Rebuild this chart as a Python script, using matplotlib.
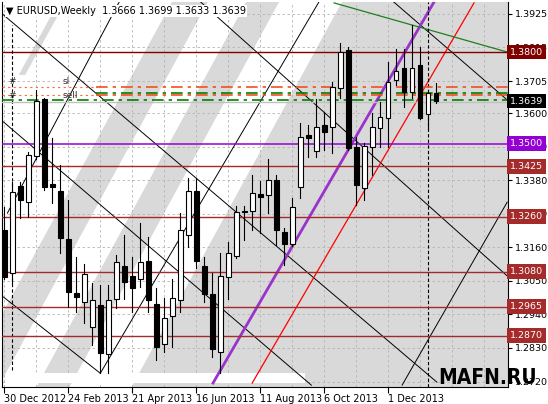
import numpy as np
import matplotlib.pyplot as plt
from matplotlib.patches import Rectangle, Polygon
import matplotlib.transforms as mtransforms

# weekly EURUSD candles, week 0 = 30 Dec 2012
OPEN = [1.3216, 1.3075, 1.3361, 1.3308, 1.3459, 1.3646, 1.3367, 1.3344, 1.3187, 1.3010,
        1.2980, 1.2898, 1.2971, 1.2810, 1.2990, 1.3098, 1.3066, 1.3056, 1.3115, 1.2974,
        1.2843, 1.2934, 1.2987, 1.3200, 1.3344, 1.3098, 1.3007, 1.2816, 1.3062, 1.3131,
        1.3279, 1.3279, 1.3334, 1.3331, 1.3380, 1.3210, 1.3171, 1.3358, 1.3528, 1.3476,
        1.3561, 1.3554, 1.3682, 1.3807, 1.3489, 1.3354, 1.3489, 1.3551, 1.3584, 1.3709,
        1.3748, 1.3669, 1.3758, 1.3597, 1.3666]
HIGH = [1.3292, 1.3374, 1.3374, 1.3472, 1.3676, 1.3650, 1.3518, 1.3430, 1.3315, 1.3128,
        1.3105, 1.3043, 1.3036, 1.3036, 1.3134, 1.3200, 1.3128, 1.3239, 1.3194, 1.3026,
        1.2993, 1.3056, 1.3272, 1.3387, 1.3387, 1.3128, 1.3076, 1.3141, 1.3177, 1.3295,
        1.3295, 1.3397, 1.3377, 1.3449, 1.3397, 1.3223, 1.3321, 1.3567, 1.3561, 1.3646,
        1.3604, 1.3702, 1.3830, 1.3817, 1.3522, 1.3502, 1.3600, 1.3636, 1.3768, 1.3810,
        1.3810, 1.3889, 1.3817, 1.3670, 1.3699]
LOW = [1.3055, 1.3043, 1.3256, 1.3259, 1.3450, 1.3348, 1.3305, 1.3141, 1.2964, 1.2948,
       1.2912, 1.2839, 1.2747, 1.2747, 1.2961, 1.2990, 1.2948, 1.3030, 1.2948, 1.2790,
       1.2816, 1.2833, 1.2948, 1.3161, 1.3092, 1.2980, 1.2800, 1.2747, 1.2990, 1.3125,
       1.3184, 1.3216, 1.3207, 1.3272, 1.3167, 1.3102, 1.3165, 1.3321, 1.3456, 1.3456,
       1.3479, 1.3469, 1.3650, 1.3479, 1.3300, 1.3315, 1.3397, 1.3489, 1.3489, 1.3692,
       1.3620, 1.3650, 1.3580, 1.3544, 1.3633]
CLOSE = [1.3062, 1.3341, 1.3315, 1.3463, 1.3640, 1.3358, 1.3357, 1.3190, 1.3013, 1.2997,
         1.3072, 1.2987, 1.2813, 1.2987, 1.3111, 1.3046, 1.3026, 1.3111, 1.2987, 1.2833,
         1.2928, 1.2993, 1.3216, 1.3344, 1.3115, 1.3007, 1.2826, 1.3066, 1.3141, 1.3275,
         1.3275, 1.3338, 1.3325, 1.3380, 1.3216, 1.3171, 1.3292, 1.3522, 1.3518, 1.3554,
         1.3538, 1.3686, 1.3800, 1.3485, 1.3364, 1.3492, 1.3554, 1.3587, 1.3702, 1.3738,
         1.3669, 1.3748, 1.3584, 1.3666, 1.3639]

DATE_POS = [0, 8, 16, 24, 32, 40, 48]
DATE_LABELS = ['30 Dec 2012', '24 Feb 2013', '21 Apr 2013', '16 Jun 2013',
               '11 Aug 2013', '6 Oct 2013', '1 Dec 2013']
PRICE_TICKS = [1.3925, 1.3815, 1.3705, 1.3600, 1.3490, 1.3380, 1.3270, 1.3160,
               1.3050, 1.2940, 1.2830, 1.2720]

# horizontal levels and their label colours
LEVELS = [1.3800, 1.3500, 1.3425, 1.3260, 1.3080, 1.2965, 1.2870]
LEVEL_COLORS = ['#800000', '#9400d3', '#a52a2a', '#a52a2a', '#a52a2a', '#a52a2a', '#a52a2a']
LAST_PRICE = 1.3639

# order lines (dash-dot)
ORANGE_LEVELS = [1.3686, 1.3659]
GREEN_LEVELS = [1.3666, 1.3643]
GRAY_LEVEL = 1.3636

# gray channel bands: (bottom-left, bottom-right, top-right, top-left) as (week, price)
BANDS = [
    [(-5.3, 1.2700), (-0.8, 1.2700), (25.6, 1.3971), (21.1, 1.3971)],
    [(3.96, 1.2700), (8.1, 1.2700), (34.5, 1.3971), (30.4, 1.3971)],
    [(15.8, 1.2700), (80, 1.2700), (80, 1.3971), (42.3, 1.3971)],
    [(1.8, 1.3725), (2.6, 1.3725), (6.6, 1.3915), (5.75, 1.3915)],
]

# trend / channel lines: ((w0, p0), (w1, p1))
BLACK_LINES = [
    ((-0.125, 1.3922), (54.1, 1.2718)),
    ((24.25, 1.3971), (62.9, 1.3066)),
    ((-0.125, 1.3571), (38.4, 1.2708)),
    ((-0.125, 1.2997), (12.0, 1.2747)),
    ((48.4, 1.3971), (62.9, 1.3643)),
    ((12.0, 1.2747), (39.5, 1.3971)),
    ((0.375, 1.3272), (14.5, 1.3971)),
    ((49.75, 1.2708), (62.9, 1.3308)),
]
PURPLE_LINE = ((26.1, 1.2715), (53.9, 1.3971))
RED_LINE = ((31.0, 1.2715), (58.75, 1.3961))
GREEN_LINE = ((41.25, 1.3961), (62.9, 1.3800))

XMIN, XMAX = -0.3, 63.0
YMIN, YMAX = 1.2702, 1.3964

fig = plt.figure(figsize=(5.48, 4.04), dpi=100, facecolor='white')
ax = fig.add_axes([2 / 548, 17 / 404, 506 / 548, 385 / 404])
ax.set_xlim(XMIN, XMAX)
ax.set_ylim(YMIN, YMAX)
ax.set_facecolor('white')

for band in BANDS:
    ax.add_patch(Polygon(band, closed=True, fc='#d9d9d9', ec='none', zorder=0))

# grid
for w in range(0, 64, 4):
    ax.axvline(w, color='#b4b4b4', ls=(0, (3, 3)), lw=0.6, zorder=1)
for p in PRICE_TICKS:
    ax.axhline(p, color='#b4b4b4', ls=(0, (3, 3)), lw=0.6, zorder=1)

# white strip at the bottom
ax.add_patch(Rectangle((0.25, 1.2715), 37.4, 0.0032, fc='white', ec='none', zorder=2))

for (a, b) in BLACK_LINES:
    ax.plot([a[0], b[0]], [a[1], b[1]], color='black', lw=0.7, zorder=3)
ax.plot(*zip(*PURPLE_LINE), color='#9933cc', lw=2.0, zorder=3)
ax.plot(*zip(*RED_LINE), color='red', lw=0.9, zorder=3)
ax.plot(*zip(*GREEN_LINE), color='#1e7f1e', lw=0.9, zorder=3)

ax.plot([1, 1], [1.2757, 1.3889], color='black', ls=(0, (3, 2)), lw=0.8, zorder=3)
ax.axvline(53, color='black', ls=(0, (3, 2)), lw=0.8, zorder=3)

for lvl, c in zip(LEVELS, LEVEL_COLORS):
    ax.axhline(lvl, color=c, lw=1.1 if c == '#9400d3' else 1.0, zorder=3)

dashdot = (0, (7, 3, 2, 3))
for lvl in ORANGE_LEVELS:
    ax.plot([-0.3, 11.4], [lvl, lvl], color='#ff6a30', lw=0.8, ls=(0, (2, 3)), zorder=3)
    ax.plot([11.4, XMAX], [lvl, lvl], color='#f05020', lw=1.2, ls=dashdot, zorder=3)
ax.plot([11.4, XMAX], [GREEN_LEVELS[0]] * 2, color='#008000', lw=1.2, ls=dashdot, zorder=3)
ax.plot([XMIN, XMAX], [GREEN_LEVELS[1]] * 2, color='#008000', lw=1.2, ls=dashdot, zorder=3)
ax.axhline(GRAY_LEVEL, color='#c0c0c0', lw=1.0, zorder=3)

for y, t in zip([1.3705, 1.3659], ['sl', 'sell']):
    ax.text(0.5, y, '#', fontsize=6.5, color='#333333', va='center', zorder=4)
    ax.text(7.3, y, t, fontsize=6.5, color='#333333', va='center', zorder=4)

# candles
for i in range(len(OPEN)):
    o, h, l, c = OPEN[i], HIGH[i], LOW[i], CLOSE[i]
    ax.plot([i, i], [l, h], color='black', lw=0.8, zorder=5)
    lo, hi = min(o, c), max(o, c)
    ax.add_patch(Rectangle((i - 0.3, lo), 0.6, max(hi - lo, 0.0003),
                           fc='white' if c >= o else 'black', ec='black', lw=0.8, zorder=6))

# axes styling
ax.spines['top'].set_visible(False)
for s in ['left', 'right', 'bottom']:
    ax.spines[s].set_color('black')
    ax.spines[s].set_linewidth(0.8)
ax.yaxis.tick_right()
ax.set_yticks(PRICE_TICKS)
ax.set_yticklabels([f'{p:.4f}' for p in PRICE_TICKS], fontsize=6.8)
ax.tick_params(axis='y', length=3, pad=2)
ax.set_xticks(DATE_POS)
ax.set_xticklabels(DATE_LABELS, fontsize=7)
ax.tick_params(axis='x', length=4, pad=1)
for lab in ax.get_xticklabels():
    lab.set_ha('left')

trans = mtransforms.blended_transform_factory(ax.transAxes, ax.transData)
for lvl, c in zip(LEVELS + [LAST_PRICE], LEVEL_COLORS + ['black']):
    ax.text(1.004, lvl, f'{lvl:.4f}', transform=trans, fontsize=6.8, color='white',
            va='center', ha='left', clip_on=False, zorder=10,
            bbox=dict(boxstyle='square,pad=0.3', fc=c, ec='none'))

ax.text(0.008, 0.99, '\u25bc EURUSD,Weekly  1.3666 1.3699 1.3633 1.3639', transform=ax.transAxes,
        fontsize=7, ha='left', va='top', zorder=10,
        bbox=dict(boxstyle='square,pad=0.1', fc='white', ec='none'))

fig.text(438 / 548, 16 / 404, 'MAFN.RU', fontsize=15, fontweight='bold', color='black',
         ha='left', va='bottom', fontstretch='condensed', zorder=20)

fig.savefig('out.png', dpi=100, facecolor='white')
